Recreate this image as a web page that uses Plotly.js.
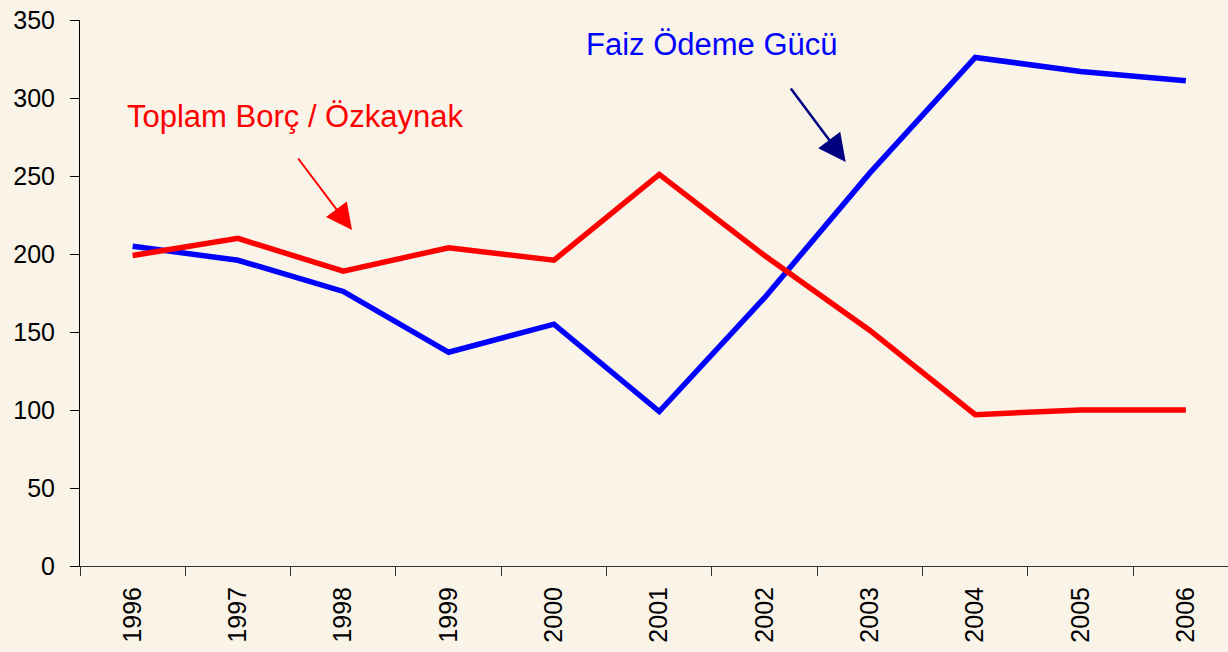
<!DOCTYPE html>
<html>
<head>
<meta charset="utf-8">
<script src="https://cdn.plot.ly/plotly-3.0.1.min.js"></script>
<style>html,body{margin:0;padding:0;background:#F9F3E8;}</style>
</head>
<body>
<div id="chart" style="width:1228px;height:652px;"></div>
<script>
const years = ["1996","1997","1998","1999","2000","2001","2002","2003","2004","2005","2006"];
const faizOdemeGucu = [205, 196, 176, 137, 155, 99, 172, 252, 326, 317, 311];
const toplamBorcOzkaynak = [199, 210, 189, 204, 196, 251, 199, 151, 97, 100, 100];

const traces = [
  {x: years, y: faizOdemeGucu, type: 'scatter', mode: 'lines', name: 'Faiz Ödeme Gücü',
   line: {color: '#0000FF', width: 5.5}},
  {x: years, y: toplamBorcOzkaynak, type: 'scatter', mode: 'lines', name: 'Toplam Borç / Özkaynak',
   line: {color: '#FF0000', width: 5.5}}
];

const layout = {
  width: 1228, height: 652,
  paper_bgcolor: '#F9F3E8', plot_bgcolor: '#F9F3E8',
  margin: {l: 80, r: 0, t: 20, b: 86},
  showlegend: false,
  font: {family: 'Liberation Sans, Arial, sans-serif', color: '#000', size: 25},
  xaxis: {
    type: 'category', range: [-0.5, 10.4], tickson: 'boundaries',
    ticks: 'outside', ticklen: 9, tickcolor: '#333', showline: true, linecolor: '#333', linewidth: 1,
    tickangle: -90, showgrid: false, zeroline: false, tickfont: {size: 25}, ticklabelstandoff: 10
  },
  yaxis: {
    range: [0, 350], dtick: 50, ticks: 'outside', ticklen: 9, tickcolor: '#000',
    showline: true, linecolor: '#000', linewidth: 1, showgrid: false, zeroline: false,
    tickfont: {size: 25}, ticklabelstandoff: 10
  },
  annotations: [
    {x: 1.54, y: 288, xref: 'x', yref: 'y', text: 'Toplam Borç / Özkaynak', showarrow: false,
     font: {color: '#FF0000', size: 31}},
    {x: 5.50, y: 334, xref: 'x', yref: 'y', text: 'Faiz Ödeme Gücü', showarrow: false,
     font: {color: '#0000FF', size: 31}},
    {x: 2.083, y: 215.4, xref: 'x', yref: 'y', text: '', showarrow: true, ax: -55, ay: -73,
     arrowcolor: '#FF0000', arrowwidth: 2, arrowhead: 2, arrowsize: 2.6, standoff: 0},
    {x: 6.77, y: 259, xref: 'x', yref: 'y', text: '', showarrow: true, ax: -56, ay: -75,
     arrowcolor: '#000080', arrowwidth: 2.5, arrowhead: 2, arrowsize: 2.2, standoff: 0}
  ]
};

Plotly.newPlot('chart', traces, layout, {displayModeBar: false, staticPlot: true});
</script>
</body>
</html>
